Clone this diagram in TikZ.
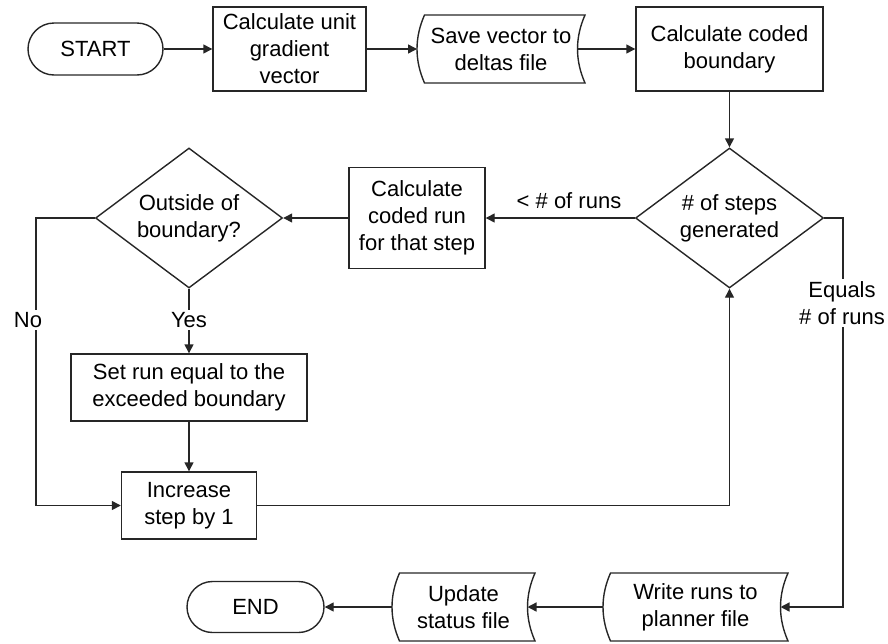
\documentclass[tikz,border=0pt]{standalone}
\usepackage{fontspec}
\setmainfont{Liberation Sans}
\usetikzlibrary{shapes.geometric,shapes.misc,arrows.meta}

% Outline of a "stored data" symbol around a plain rectangle node:
% both sides are arcs curving to the left by 7.5pt.
\newcommand{\storedataoutline}[1]{%
  \draw[shapeline] ([xshift=7.5pt]#1.north west) -- (#1.north east)
    .. controls ([xshift=-10pt,yshift=-22.7pt]#1.north east)
       and ([xshift=-10pt,yshift=22.7pt]#1.south east) .. (#1.south east)
    -- ([xshift=7.5pt]#1.south west)
    .. controls ([xshift=-2.5pt,yshift=22.7pt]#1.south west)
       and ([xshift=-2.5pt,yshift=-22.7pt]#1.north west) .. cycle;}

\begin{document}
\begin{tikzpicture}[x=1pt,y=-1pt,
  every node/.style={font=\fontsize{22}{27}\selectfont, align=center, text=black},
  shapeline/.style={draw=black!85, line width=1.4pt},
  procbox/.style={rectangle, shapeline, inner sep=0pt},
  termbox/.style={rounded rectangle, shapeline, inner sep=0pt},
  decision/.style={diamond, shapeline, inner sep=0pt, shape aspect=1.34},
  storebox/.style={rectangle, inner sep=0pt, outer sep=0pt},
  flow/.style={draw=black!85, line width=1.4pt, -{Triangle[length=9pt,width=9pt]}},
  lbl/.style={fill=white, inner sep=2pt}]

\path[use as bounding box] (0,0) rectangle (888,643);

% top row
\node[termbox, minimum width=135pt, minimum height=52pt] (start) at (95.5,49) {START};
\node[procbox, minimum width=153pt, minimum height=84pt] (unitgrad) at (289.5,49) {Calculate unit\\gradient\\vector};
\node[storebox, minimum width=168pt, minimum height=68pt] (savevec) at (501,49) {Save vector to\\deltas file};
\storedataoutline{savevec}
\node[procbox, minimum width=187pt, minimum height=84pt] (codedbound) at (729.5,49) {Calculate coded\\boundary};

% loop over the steps
\node[decision, minimum width=188pt, minimum height=140pt] (steps) at (729.5,218) {\# of steps\\generated};
\node[procbox, minimum width=136pt, minimum height=101pt] (codedrun) at (417,218) {Calculate\\coded run\\for that step};
\node[decision, minimum width=187pt, minimum height=140pt] (outside) at (189,218) {Outside of\\boundary?};
\node[procbox, minimum width=236pt, minimum height=67pt] (setrun) at (189,387.5) {Set run equal to the\\exceeded boundary};
\node[procbox, minimum width=135pt, minimum height=67pt] (incstep) at (189,505.5) {Increase\\step by 1};

% bottom row
\node[storebox, minimum width=185pt, minimum height=68pt] (writeruns) at (695.5,607) {Write runs to\\planner file};
\storedataoutline{writeruns}
\node[storebox, minimum width=143pt, minimum height=68pt] (update) at (463.5,607) {Update\\status file};
\storedataoutline{update}
\node[termbox, minimum width=137pt, minimum height=51pt] (finish) at (255.5,607) {END};

\coordinate (nocol) at (36,218);
\coordinate (eqcol) at (843,218);

% connectors
\draw[flow] (start.east) -- (unitgrad.west);
\draw[flow] (unitgrad.east) -- (savevec.west);
\draw[flow] ([xshift=-7.5pt]savevec.east) -- (codedbound.west);
\draw[flow] (codedbound.south) -- (steps.north);
\draw[flow] (steps.west) -- (codedrun.east);
\node (lessruns) at (569,201) {< \# of runs};
\draw[flow] (codedrun.west) -- (outside.east);
\draw[flow] (outside.south) -- (setrun.north);
\node[lbl] (yes) at (189,320) {Yes};
\draw[flow] (outside.west) -- (nocol) |- (incstep.west);
\node[lbl] (no) at (28,320) {No};
\draw[flow] (setrun.south) -- (incstep.north);
\draw[flow] (incstep.east) -| (steps.south);
\draw[flow] (steps.east) -- (eqcol) |- ([xshift=-7.5pt]writeruns.east);
\node[lbl] (equals) at (842,303) {Equals\\\# of runs};
\draw[flow] (writeruns.west) -- ([xshift=-7.5pt]update.east);
\draw[flow] (update.west) -- (finish.east);
\end{tikzpicture}
\end{document}
